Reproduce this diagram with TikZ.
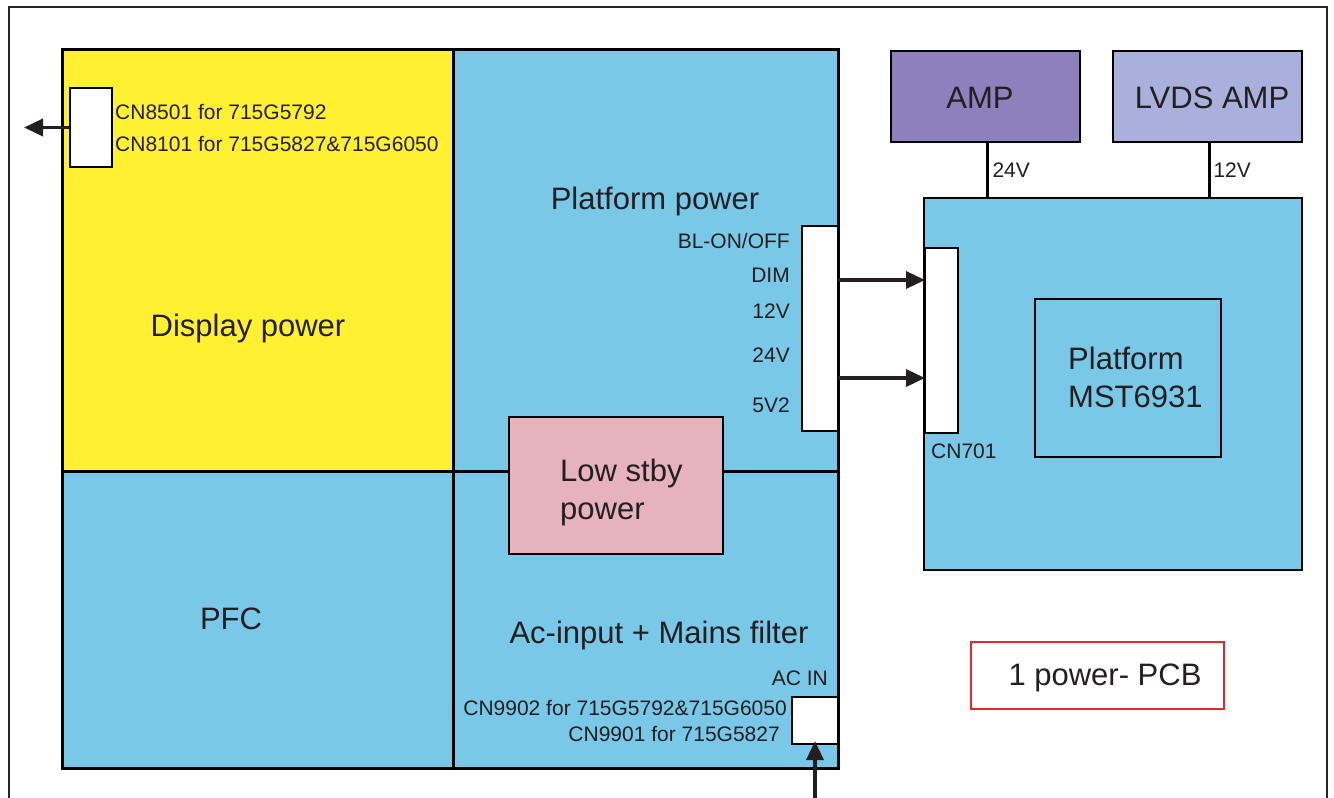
\documentclass[tikz,border=0pt]{standalone}
\usepackage{fontspec}
\setmainfont{Liberation Sans}
\usetikzlibrary{arrows.meta,positioning}

\definecolor{dispyellow}{RGB}{255,240,50}
\definecolor{boardblue}{RGB}{122,200,232}
\definecolor{stbypink}{RGB}{229,178,190}
\definecolor{amppurple}{RGB}{142,128,188}
\definecolor{lvdsblue}{RGB}{170,176,220}
\definecolor{pcbred}{RGB}{226,40,40}
\definecolor{ink}{RGB}{35,31,32}

\tikzset{
	region/.style={draw=black, line width=3pt, anchor=north west, inner sep=0pt, outer sep=0pt},
	conn/.style={draw=black, line width=2pt, fill=white, anchor=north west, inner sep=0pt, outer sep=0pt},
	big/.style={text=ink, inner sep=0pt, font=\fontsize{31}{36}\selectfont},
	small/.style={text=ink, inner sep=0pt, font=\fontsize{21}{25}\selectfont},
	arr/.style={draw=ink, line width=3.5pt, -{Triangle[length=19pt,width=17pt]}},
	wire/.style={draw=black, line width=3pt}
}

\begin{document}
\begin{tikzpicture}[x=1pt,y=-1pt]
	\useasboundingbox (0,0) rectangle (1334,798);
	% Outer frame
	\draw[line width=2pt, black!85] (9,798) -- (9,7) -- (1327,7) -- (1327,798);

	% Power board regions
	\node[region, fill=dispyellow, minimum width=391pt, minimum height=422pt] (disp) at (62,49) {};
	\node[region, fill=boardblue, minimum width=385pt, minimum height=422pt] (plat) at (453,49) {};
	\node[region, fill=boardblue, minimum width=391pt, minimum height=297pt] (pfc) at (62,471) {};
	\node[region, fill=boardblue, minimum width=385pt, minimum height=297pt] (acin) at (453,471) {};
	\node[region, draw=black, line width=2pt, fill=stbypink, minimum width=214pt, minimum height=137pt] (stby) at (509,417) {};

	% Main board and amplifiers
	\node[region, line width=2pt, fill=boardblue, minimum width=378pt, minimum height=372pt] (main) at (924,198) {};
	\node[region, line width=2pt, minimum width=186pt, minimum height=158pt] (mst) at (1035,299) {};
	\node[region, line width=2pt, fill=amppurple, minimum width=189pt, minimum height=91pt] (amp) at (891,51) {};
	\node[region, line width=2pt, fill=lvdsblue, minimum width=189pt, minimum height=91pt] (lvds) at (1113,51) {};
	\node[region, draw=pcbred, line width=2pt, minimum width=253pt, minimum height=67pt] (pcb) at (971,642) {};

	% Connectors
	\node[conn, minimum width=42pt, minimum height=79pt] (cn85) at (70,88) {};
	\node[conn, minimum width=36pt, minimum height=205pt] (pcn) at (802,226) {};
	\node[conn, minimum width=33pt, minimum height=185pt] (cn701) at (925,248) {};
	\node[conn, minimum width=46pt, minimum height=47pt] (accn) at (792,697) {};

	% Labels
	\node[small, anchor=base west] (cn85a) at (115,119) {CN8501 for 715G5792};
	\node[small, anchor=base west] (cn85b) at (115,151) {CN8101 for 715G5827\&715G6050};
	\node[big, anchor=base] (displbl) at (248,336) {Display power};
	\node[big, anchor=base] (platlbl) at (655,209) {Platform power};
	\node[small, anchor=base east] (blon) at (790,248) {BL-ON/OFF};
	\node[small, anchor=base east] (dim) at (790,282) {DIM};
	\node[small, anchor=base east] (p12) at (790,318) {12V};
	\node[small, anchor=base east] (p24) at (790,362) {24V};
	\node[small, anchor=base east] (p5) at (790,412) {5V2};
	\node[small, anchor=base west] (cn701lbl) at (931,458) {CN701};
	\node[big, anchor=base west] (mstlbl) at (1068,369) {Platform};
	\node[big, anchor=base west] (mstlbl2) at (1068,407) {MST6931};
	\node[big, anchor=base west] (stbylbl) at (560,481) {Low stby};
	\node[big, anchor=base west] (stbylbl2) at (560,519) {power};
	\node[big, anchor=base] (pfclbl) at (231,629) {PFC};
	\node[big, anchor=base] (aclbl) at (659,643) {Ac-input + Mains filter};
	\node[small, anchor=base east] (aclbl2) at (828,685) {AC IN};
	\node[small, anchor=base east] (cn99a) at (787,715) {CN9902 for 715G5792\&715G6050};
	\node[small, anchor=base east] (cn99b) at (780,741) {CN9901 for 715G5827};
	\node[big, anchor=base] (amplbl) at (980,108) {AMP};
	\node[big, anchor=base] (lvdslbl) at (1212,108) {LVDS AMP};
	\node[big, anchor=base] (pcblbl) at (1105,685) {1 power- PCB};

	% Connections
	\path (pcn.north east) ++(0,54) coordinate (o1) ++(0,98) coordinate (o2);
	\draw[arr] (o1) -- (o1 -| cn701.west);
	\draw[arr] (o2) -- (o2 -| cn701.west);
	\draw[arr] (cn85.west) -- ++(-46,0);
	\draw[arr] ([yshift=-54pt]accn.south) -- ([yshift=3pt]accn.south);
	\draw[wire] ([xshift=1.5pt]amp.south) -- ([xshift=1.5pt]amp.south |- main.north)
		node[small, midway, right=4pt] {24V};
	\draw[wire] ([xshift=1.5pt]lvds.south) -- ([xshift=1.5pt]lvds.south |- main.north)
		node[small, midway, right=3pt] {12V};
\end{tikzpicture}
\end{document}
